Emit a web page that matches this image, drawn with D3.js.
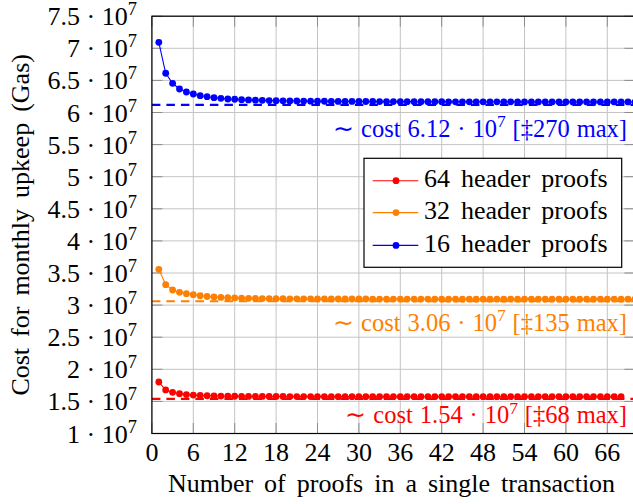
<!DOCTYPE html>
<html><head><meta charset="utf-8">
<script src="https://cdn.jsdelivr.net/npm/d3@7"></script>
<style>body{margin:0;background:#fff}svg{display:block}text{font-family:"Liberation Serif","Times New Roman",serif}</style>
</head><body><svg id="c" width="633" height="504"></svg>
<script>
// values in units of 10^7 gas, x = number of proofs (1..n)
const series64 = [1.802,1.678,1.642,1.620,1.606,1.598,1.592,1.588,1.585,1.583,1.581,1.580,1.579,1.578,1.577,1.577,1.576,1.576,1.576,1.575,1.575,1.575,1.575,1.575,1.574,1.574,1.574,1.574,1.574,1.574,1.574,1.574,1.574,1.573,1.573,1.573,1.573,1.573,1.573,1.573,1.573,1.573,1.573,1.573,1.573,1.573,1.573,1.573,1.573,1.573,1.573,1.573,1.573,1.573,1.573,1.573,1.573,1.573,1.573,1.573,1.573,1.573,1.573,1.573,1.573,1.573,1.573,1.573];
const series32 = [3.558,3.318,3.235,3.199,3.178,3.162,3.146,3.134,3.126,3.120,3.115,3.111,3.108,3.106,3.104,3.102,3.101,3.100,3.099,3.098,3.098,3.097,3.097,3.096,3.096,3.096,3.095,3.095,3.095,3.095,3.095,3.094,3.094,3.094,3.094,3.094,3.094,3.094,3.094,3.094,3.093,3.093,3.093,3.093,3.093,3.093,3.093,3.093,3.093,3.093,3.093,3.093,3.093,3.093,3.093,3.093,3.093,3.093,3.093,3.093,3.093,3.093,3.093,3.093,3.093,3.093,3.093,3.093,3.093,3.093];
const series16 = [7.093,6.611,6.455,6.366,6.319,6.288,6.262,6.246,6.231,6.221,6.210,6.206,6.200,6.196,6.192,6.189,6.186,6.184,6.182,6.180,6.179,6.178,6.177,6.176,6.175,6.174,6.173,6.173,6.172,6.172,6.171,6.171,6.170,6.170,6.170,6.169,6.169,6.169,6.168,6.168,6.168,6.168,6.167,6.167,6.167,6.167,6.167,6.166,6.166,6.166,6.166,6.166,6.166,6.165,6.165,6.165,6.165,6.165,6.165,6.165,6.165,6.164,6.164,6.164,6.164,6.164,6.164,6.164,6.164,6.164];
const seriesNames = ["64 header proofs","32 header proofs","16 header proofs"];
const seriesColors = ["#ff0000","#ff8000","#0000ff"];
const costs = [1.54, 3.06, 6.12];
const costLabels = ["1.54","3.06","6.12"];
const maxLabels = ["68","135","270"];
const xTicks = [0,6,12,18,24,30,36,42,48,54,60,66];
const yTicks = [1,1.5,2,2.5,3,3.5,4,4.5,5,5.5,6,6.5,7,7.5];
const yTickLabels = ["1","1.5","2","2.5","3","3.5","4","4.5","5","5.5","6","6.5","7","7.5"];
const xTitle = "Number of proofs in a single transaction";
const yTitle = "Cost for monthly upkeep (Gas)";

const svg = d3.select("#c");
const FS = 26, WS = 4.5;
const x = d3.scaleLinear().domain([0,70]).range([151.9,634.9]);
const y = d3.scaleLinear().domain([1,7.5]).range([433.5,16.2]);
const X0=x.range()[0], X1=x.range()[1], Y0=y.range()[0], Y1=y.range()[1];

const g = svg.append("g");
// grid
g.selectAll(".gx").data(xTicks).join("line").attr("x1",d=>x(d)).attr("x2",d=>x(d)).attr("y1",Y0).attr("y2",Y1).attr("stroke","#c4c4c4").attr("stroke-width",1);
g.selectAll(".gy").data(yTicks).join("line").attr("y1",d=>y(d)).attr("y2",d=>y(d)).attr("x1",X0).attr("x2",X1).attr("stroke","#c4c4c4").attr("stroke-width",1);
// ticks (inside, mirrored)
const TL=10.5;
xTicks.forEach(t=>{
  g.append("line").attr("x1",x(t)).attr("x2",x(t)).attr("y1",Y0).attr("y2",Y0-TL).attr("stroke","#8c8c8c");
  g.append("line").attr("x1",x(t)).attr("x2",x(t)).attr("y1",Y1).attr("y2",Y1+TL).attr("stroke","#8c8c8c");
});
yTicks.forEach(t=>{
  g.append("line").attr("y1",y(t)).attr("y2",y(t)).attr("x1",X0).attr("x2",X0+TL).attr("stroke","#8c8c8c");
  g.append("line").attr("y1",y(t)).attr("y2",y(t)).attr("x1",X1).attr("x2",X1-TL).attr("stroke","#8c8c8c");
});

// dashed cost lines
const all=[series64,series32,series16];
costs.forEach((c,i)=>{
  g.append("line").attr("x1",X0).attr("x2",X1).attr("y1",y(c)).attr("y2",y(c))
   .attr("stroke",seriesColors[i]).attr("stroke-width",2.2).attr("stroke-dasharray","8.5,6");
});
// series
const line = d3.line().x((d,i)=>x(i+1)).y(d=>y(d));
all.forEach((s,i)=>{
  g.append("path").attr("d",line(s)).attr("fill","none").attr("stroke",seriesColors[i]).attr("stroke-width",1.1);
  g.selectAll(null).data(s).join("circle").attr("cx",(d,j)=>x(j+1)).attr("cy",d=>y(d)).attr("r",3.4).attr("fill",seriesColors[i]);
});

// frame
g.append("rect").attr("x",X0).attr("y",Y1).attr("width",X1-X0).attr("height",Y0-Y1).attr("fill","none").attr("stroke","#000").attr("stroke-width",1.2);

// annotations
const annOffset=[24.5,29.5,32];
costs.forEach((c,i)=>{
  const t=g.append("text").attr("x",627).attr("y",y(c)+annOffset[i]).attr("text-anchor","end").attr("fill",seriesColors[i]).attr("font-size",24.5).attr("word-spacing",0.8);
  t.append("tspan").text("\u223C cost "+costLabels[i]+" \u00B7 10");
  t.append("tspan").attr("dy",-9.5).attr("font-size",17.5).text("7");
  t.append("tspan").attr("dy",9.5).text(" [\u2021"+maxLabels[i]+" max]");
});

// legend
const L={x:364,y:158.3,w:257.7,h:109};
g.append("rect").attr("x",L.x).attr("y",L.y).attr("width",L.w).attr("height",L.h).attr("fill","#fff").attr("stroke","#000").attr("stroke-width",1.2);
const ly=[180.7,212.6,245.4];
seriesNames.forEach((n,i)=>{
  g.append("line").attr("x1",372.7).attr("x2",418.3).attr("y1",ly[i]).attr("y2",ly[i]).attr("stroke",seriesColors[i]).attr("stroke-width",1.1);
  g.append("circle").attr("cx",396).attr("cy",ly[i]).attr("r",3.4).attr("fill",seriesColors[i]);
  g.append("text").attr("x",424).attr("y",ly[i]+6.5).attr("font-size",FS).attr("word-spacing",WS).attr("fill","#000").text(n);
});

// tick labels
xTicks.forEach(t=>{
  g.append("text").attr("x",x(t)).attr("y",460.5).attr("text-anchor","middle").attr("font-size",FS).text(t);
});
yTicks.forEach((t,i)=>{
  const tt=g.append("text").attr("x",137).attr("y",y(t)+9).attr("text-anchor","end").attr("font-size",FS);
  tt.append("tspan").text(yTickLabels[i]+" \u00B7 10");
  tt.append("tspan").attr("dy",-10).attr("font-size",18.5).text("7");
});
// titles
g.append("text").attr("x",391.5).attr("y",492).attr("text-anchor","middle").attr("font-size",FS).attr("word-spacing",WS).text(xTitle);
g.append("text").attr("transform","translate(28.5,"+((Y0+Y1)/2)+") rotate(-90)").attr("text-anchor","middle").attr("font-size",FS).attr("word-spacing",WS).text(yTitle);
</script></body></html>
